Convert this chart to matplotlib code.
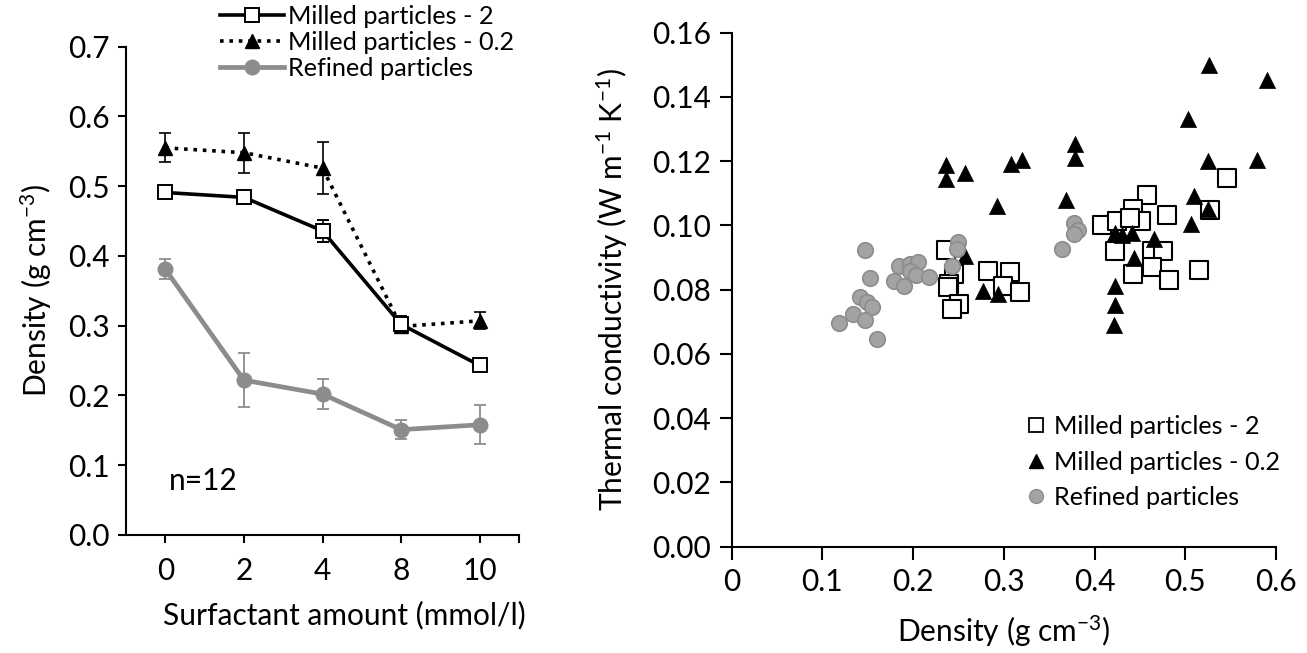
import matplotlib
matplotlib.use('Agg')
import matplotlib.pyplot as plt
from matplotlib.lines import Line2D

plt.rcParams['font.family'] = ['Lato', 'DejaVu Sans']
plt.rcParams['mathtext.fontset'] = 'custom'
plt.rcParams['mathtext.rm'] = 'Lato'
plt.rcParams['mathtext.it'] = 'Lato:italic'

# ---------------- data: left panel ----------------
surf_labels = ['0', '2', '4', '8', '10']
m2_mean = [0.491, 0.484, 0.436, 0.302, 0.243]
m2_err = [0.005, 0.010, 0.016, 0.012, 0.005]
m02_mean = [0.555, 0.548, 0.526, 0.299, 0.307]
m02_err = [0.021, 0.029, 0.037, 0.008, 0.012]
ref_mean = [0.381, 0.222, 0.202, 0.151, 0.158]
ref_err = [0.014, 0.039, 0.022, 0.014, 0.028]

# ---------------- data: right panel ----------------
sq_x = [0.546, 0.458, 0.442, 0.451, 0.480, 0.408, 0.425, 0.422, 0.463, 0.475,
        0.442, 0.463, 0.482, 0.515, 0.527, 0.236, 0.245, 0.239, 0.238, 0.251,
        0.243, 0.283, 0.307, 0.299, 0.318, 0.439]
sq_y = [0.1148, 0.1094, 0.1050, 0.1014, 0.1032, 0.1001, 0.1014, 0.0921, 0.0921, 0.0921,
        0.0849, 0.0871, 0.0831, 0.0862, 0.1047, 0.0924, 0.0849, 0.0818, 0.0807, 0.0756,
        0.0740, 0.0859, 0.0854, 0.0812, 0.0792, 0.1024]
tri_x = [0.526, 0.590, 0.503, 0.525, 0.579, 0.378, 0.378, 0.369, 0.236, 0.236,
         0.257, 0.308, 0.320, 0.292, 0.257, 0.277, 0.294, 0.422, 0.422, 0.421,
         0.423, 0.441, 0.443, 0.466, 0.506, 0.510, 0.525, 0.430]
tri_y = [0.1500, 0.1453, 0.1332, 0.1200, 0.1203, 0.1252, 0.1210, 0.1080, 0.1187, 0.1145,
         0.1162, 0.1190, 0.1203, 0.1060, 0.0905, 0.0797, 0.0787, 0.0812, 0.0752, 0.0690,
         0.0978, 0.0978, 0.0900, 0.0957, 0.1004, 0.1091, 0.1052, 0.0970]
cir_x = [0.1465, 0.1524, 0.1410, 0.1495, 0.1546, 0.1339, 0.1465, 0.1178, 0.1600, 0.1845,
         0.1960, 0.2057, 0.1960, 0.2031, 0.2170, 0.1790, 0.1896, 0.2496, 0.2487, 0.2424,
         0.3775, 0.3818, 0.3775, 0.3636]
cir_y = [0.0924, 0.0835, 0.0776, 0.0763, 0.0745, 0.0725, 0.0706, 0.0697, 0.0647, 0.0874,
         0.0880, 0.0885, 0.0859, 0.0845, 0.0838, 0.0828, 0.0812, 0.0949, 0.0928, 0.0874,
         0.1007, 0.0985, 0.0973, 0.0926]

labels = ['Milled particles - 2', 'Milled particles - 0.2', 'Refined particles']

GRAY = '#8c8c8c'
FS_TICK = 21.5
FS_LAB = 21.5
FS_LEG = 18.2

W, H = 1307, 653
fig = plt.figure(figsize=(W / 100, H / 100), dpi=100)

# ---------------- left panel ----------------
ax1 = fig.add_axes([126 / W, 118 / H, (519 - 126) / W, (535 - 46.7) / H])
xs = list(range(len(surf_labels)))
ax1.errorbar(xs, ref_mean, yerr=ref_err, color=GRAY, lw=3.4, marker='o', ms=10.5,
             mfc=GRAY, mec=GRAY, ecolor=GRAY, elinewidth=1.3, capsize=4, capthick=1.3,
             zorder=3)
ax1.errorbar(xs, m02_mean, yerr=m02_err, color='black', lw=2.6, ls=(0, (1, 1.6)), marker='^',
             ms=10.5, mfc='black', mec='black', ecolor='black', elinewidth=1.2, capsize=4,
             capthick=1.2, zorder=4)
ax1.errorbar(xs, m2_mean, yerr=m2_err, color='black', lw=2.6, marker='s', ms=10.5,
             mfc='white', mec='black', mew=1.4, ecolor='black', elinewidth=1.2, capsize=4,
             capthick=1.2, zorder=5)
ax1.set_xlim(-0.5, 4.5)
ax1.set_ylim(0, 0.7)
ax1.set_xticks(xs + [4.5], surf_labels + [''])
ax1.set_yticks([i / 10 for i in range(8)], [f'{i / 10:.1f}' for i in range(8)])
for s in ['top', 'right']:
    ax1.spines[s].set_visible(False)
for s in ['left', 'bottom']:
    ax1.spines[s].set_linewidth(1.5)
ax1.tick_params(axis='x', direction='out', length=6, width=1.5, labelsize=FS_TICK, pad=10)
ax1.tick_params(axis='y', direction='out', length=6, width=1.5, labelsize=FS_TICK, pad=6)
ax1.set_xlabel('Surfactant amount (mmol/l)', fontsize=FS_LAB)
ax1.xaxis.set_label_coords(0.555, -0.135)
ax1.set_ylabel('Density (g cm$^{-3}$)', fontsize=FS_LAB, labelpad=10)
ax1.text(0.05, 0.077, 'n=12', fontsize=FS_TICK, va='center', ha='left')

h1 = [Line2D([], [], color='black', lw=2.6, marker='s', ms=10.5, mfc='white', mec='black', mew=1.4),
      Line2D([], [], color='black', lw=2.6, ls=(0, (1, 1.6)), marker='^', ms=10.5, mfc='black', mec='black'),
      Line2D([], [], color=GRAY, lw=3.4, marker='o', ms=10.5, mfc=GRAY, mec=GRAY)]
fig.legend(h1, labels, loc='upper left', bbox_to_anchor=(220 / W, 1 - 5 / H), frameon=False,
           fontsize=FS_LEG, handlelength=2.55, handletextpad=0.15, labelspacing=0.12,
           borderpad=0, borderaxespad=0, numpoints=1)

# ---------------- right panel ----------------
ax2 = fig.add_axes([731.7 / W, 106.3 / H, (1276 - 731.7) / W, (546.7 - 32.7) / H])
ax2.scatter(sq_x, sq_y, marker='s', s=155, facecolor='white', edgecolor='black', lw=1.5,
            zorder=3, label=labels[0])
ax2.scatter(tri_x, tri_y, marker='^', s=135, facecolor='black', edgecolor='black', lw=0.5,
            zorder=4, label=labels[1])
ax2.scatter(cir_x, cir_y, marker='o', s=125, facecolor='#a3a3a3', edgecolor=GRAY, lw=1.2,
            zorder=5, label=labels[2])
ax2.set_xlim(0, 0.6)
ax2.set_ylim(0, 0.16)
ax2.set_xticks([i / 10 for i in range(7)], ['0'] + [f'{i / 10:.1f}' for i in range(1, 7)])
ax2.set_yticks([i * 0.02 for i in range(9)], [f'{i * 0.02:.2f}' for i in range(9)])
for s in ['top', 'right']:
    ax2.spines[s].set_visible(False)
for s in ['left', 'bottom']:
    ax2.spines[s].set_linewidth(1.5)
ax2.tick_params(axis='both', direction='out', length=9, width=1.5, labelsize=FS_TICK, pad=6)
ax2.set_xlabel('Density (g cm$^{-3}$)', fontsize=FS_LAB, labelpad=13)
ax2.set_ylabel('Thermal conductivity (W m$^{-1}$ K$^{-1}$)', fontsize=FS_LAB, labelpad=16)

h2 = [Line2D([], [], ls='none', marker='s', ms=10, mfc='white', mec='black', mew=1.3),
      Line2D([], [], ls='none', marker='^', ms=10, mfc='black', mec='black'),
      Line2D([], [], ls='none', marker='o', ms=10, mfc='#a3a3a3', mec=GRAY)]
ax2.legend(h2, labels, loc='upper left', bbox_to_anchor=(1027 / W, 1 - 415 / H),
           bbox_transform=fig.transFigure, frameon=False, fontsize=FS_LEG,
           handlelength=0.7, handletextpad=0.35, labelspacing=0.5, borderpad=0,
           borderaxespad=0, numpoints=1)

fig.savefig('out.png', dpi=100)
